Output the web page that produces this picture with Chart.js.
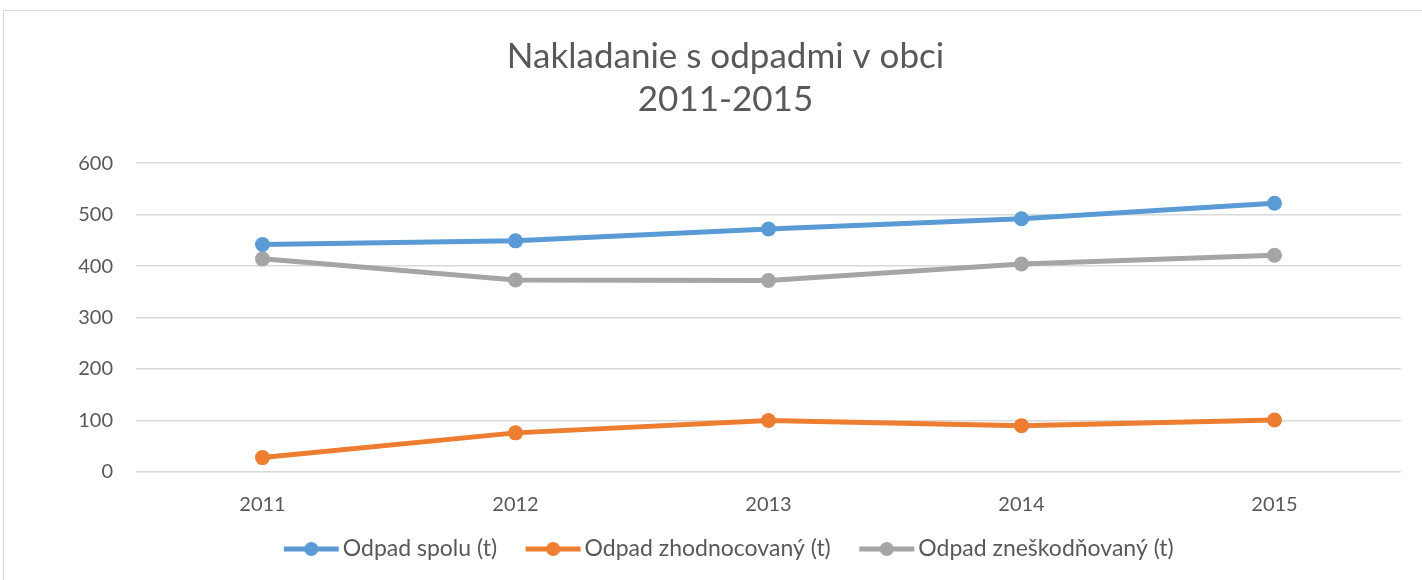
<!DOCTYPE html>
<html>
<head>
<meta charset="utf-8">
<script src="https://cdn.jsdelivr.net/npm/chart.js@4"></script>
<style>
  html, body { margin: 0; padding: 0; background: #fff; }
  #wrap { position: absolute; left: 0; top: 0; width: 1422px; height: 580px; }
  #frame { position: absolute; left: 3px; top: 10px; width: 1440px; height: 600px;
           border: 1.5px solid #d9d9d9; box-sizing: border-box; }
</style>
</head>
<body>
<div id="wrap">
  <div id="frame"></div>
  <canvas id="chart" width="1422" height="580"></canvas>
</div>
<script>
// Data
const years = ['2011', '2012', '2013', '2014', '2015'];
const odpadSpolu = [442, 449, 472, 492, 522];
const odpadZhodnocovany = [28, 76, 100, 90, 101];
const odpadZneskodnovany = [414, 373, 372, 404, 421];
const seriesNames = ['Odpad spolu (t)', 'Odpad zhodnocovaný (t)', 'Odpad zneškodňovaný (t)'];
const seriesColors = ['#5B9BD5', '#ED7D31', '#A5A5A5'];

const FONT = 'Lato, "Open Sans", sans-serif';
const TEXT = '#595959';

// legend marker: line with dot (left part of the image is blank, it acts as spacing between items)
function legendMarker(color) {
    const c = document.createElement('canvas');
    c.width = 95; c.height = 18;
    const g = c.getContext('2d');
    g.strokeStyle = color;
    g.lineWidth = 5;
    g.beginPath(); g.moveTo(38, 9); g.lineTo(93, 9); g.stroke();
    g.fillStyle = color;
    g.beginPath(); g.arc(65.5, 9, 7, 0, Math.PI * 2); g.fill();
    return c;
}

function makeSet(i, values) {
    return {
        label: seriesNames[i],
        data: values,
        borderColor: seriesColors[i],
        backgroundColor: seriesColors[i],
        borderWidth: 5,
        pointRadius: 7.5,
        pointHoverRadius: 7.5,
        pointBorderWidth: 0,
        tension: 0,
        fill: false
    };
}

// the original chart frame is wider than the picture, so title and legend sit a bit right of center
const shiftBlocks = {
    id: 'shiftBlocks',
    afterLayout: function (chart) {
        chart.titleBlock.left += 30;
        chart.legend.left += 8;
    }
};

const ctx = document.getElementById('chart').getContext('2d');
new Chart(ctx, {
    type: 'line',
    data: {
        labels: years,
        datasets: [
            makeSet(0, odpadSpolu),
            makeSet(1, odpadZhodnocovany),
            makeSet(2, odpadZneskodnovany)
        ]
    },
    plugins: [shiftBlocks],
    options: {
        responsive: false,
        animation: false,
        layout: { padding: { left: 20, right: 21, top: 25, bottom: 9.5 } },
        plugins: {
            tooltip: { enabled: false },
            title: {
                display: true,
                text: ['Nakladanie s odpadmi v obci', '2011-2015'],
                color: TEXT,
                font: { family: FONT, size: 35, weight: 'normal', lineHeight: 1.23 },
                padding: { top: 10, bottom: 42 }
            },
            legend: {
                position: 'bottom',
                labels: {
                    usePointStyle: true,
                    pointStyleWidth: 76,
                    boxHeight: 18,
                    padding: 0,
                    color: TEXT,
                    font: { family: FONT, size: 23 },
                    generateLabels: function (chart) {
                        return chart.data.datasets.map(function (ds, i) {
                            return {
                                text: ds.label,
                                fillStyle: ds.borderColor,
                                strokeStyle: ds.borderColor,
                                fontColor: TEXT,
                                pointStyle: legendMarker(ds.borderColor),
                                lineWidth: 0,
                                hidden: false,
                                datasetIndex: i
                            };
                        });
                    }
                }
            }
        },
        scales: {
            x: {
                offset: true,
                grid: { display: false },
                border: { display: false },
                ticks: { color: TEXT, font: { family: FONT, size: 20 }, padding: 13 },
                afterFit: function (scale) { scale.height = 65.5; }
            },
            y: {
                min: 0,
                max: 600,
                ticks: { stepSize: 100, color: TEXT, font: { family: FONT, size: 20 }, padding: 23 },
                grid: { color: '#d9d9d9', lineWidth: 1.5, drawTicks: false },
                border: { display: false },
                afterFit: function (scale) { scale.width = 116; }
            }
        }
    }
});
</script>
</body>
</html>
